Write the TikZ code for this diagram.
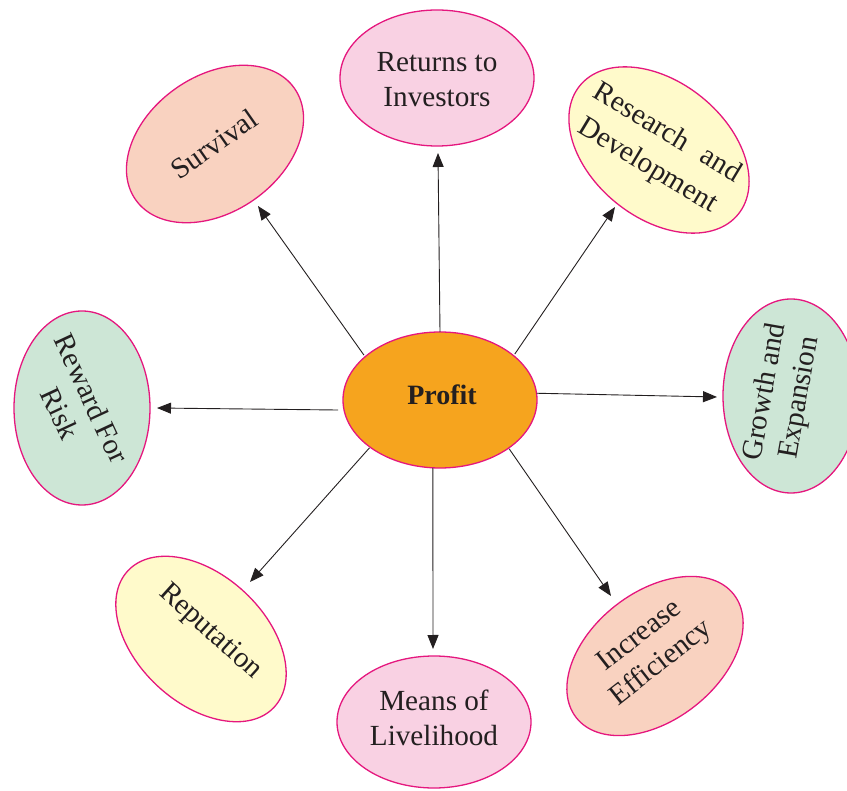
\documentclass[tikz,border=0pt]{standalone}
\usepackage{fontspec}
\setmainfont{Liberation Serif}
\usetikzlibrary{shapes.geometric,arrows.meta}
\definecolor{orng}{HTML}{F6A41E}
\definecolor{edge}{HTML}{E5177E}
\definecolor{pinkf}{HTML}{F9D1E3}
\definecolor{salmonf}{HTML}{F9D2C0}
\definecolor{yellowf}{HTML}{FFFACB}
\definecolor{mintf}{HTML}{CDE6D6}
\definecolor{ink}{HTML}{231F20}
\tikzset{
  bub/.style={ellipse, draw=edge, line width=1.3pt, inner sep=0pt, outer sep=0pt},
  lbl/.style={align=center, inner sep=0pt, text=ink, font=\fontsize{29.2}{35}\selectfont},
  arr/.style={-{Triangle[length=14pt,width=11pt]}, line width=0.9pt, draw=ink},
}
\begin{document}
\begin{tikzpicture}[x=1pt,y=-1pt]
\useasboundingbox (0,0) rectangle (847,791);
\clip (0,0) rectangle (847,791);
% central node
\node[bub, fill=orng, minimum width=194pt, minimum height=136pt] (profit) at (440,400) {};
\node[lbl, font=\fontsize{28}{34}\selectfont\bfseries] (profitT) at (442,395) {Profit};
% outer ellipses
\node[bub, fill=pinkf, minimum width=194pt, minimum height=136pt] (ret) at (437,78) {};
\node[lbl] (retT) at (437,80) {Returns to\\Investors};
\node[bub, fill=salmonf, minimum width=194pt, minimum height=136pt, rotate=35] (surv) at (215,144) {};
\node[lbl, rotate=35] (survT) at (214,144) {Survival};
\node[bub, fill=yellowf, minimum width=204pt, minimum height=136pt, rotate=-39] (rd) at (659,150) {};
\node[lbl, rotate=-31, font=\fontsize{29.2}{38}\selectfont] (rdT) at (657,150) {Research\hspace{0.6em}and\\Development};
\node[bub, fill=mintf, minimum width=136pt, minimum height=194pt] (rew) at (82,408) {};
\node[lbl, rotate=-65] (rewT) at (76,406) {Reward For\\Risk};
\node[bub, fill=mintf, minimum width=136pt, minimum height=194pt] (grow) at (791,396) {};
\node[lbl, rotate=80] (growT) at (783,395) {Growth and\\Expansion};
\node[bub, fill=yellowf, minimum width=200pt, minimum height=128pt, rotate=-43] (rep) at (201,639) {};
\node[lbl, rotate=-42] (repT) at (210,632) {Reputation};
\node[bub, fill=pinkf, minimum width=194pt, minimum height=132pt] (mean) at (434,722) {};
\node[lbl] (meanT) at (434,718) {Means of\\Livelihood};
\node[bub, fill=salmonf, minimum width=200pt, minimum height=128pt, rotate=38] (eff) at (655,656) {};
\node[lbl, rotate=38] (effT) at (651,650) {Increase\\Efficiency};
% arrow tips
\coordinate (retIn) at (438,153);
\coordinate (survIn) at (258,206);
\coordinate (rdIn) at (615,207);
\coordinate (rewIn) at (157,408);
\coordinate (growIn) at (717,397);
\coordinate (repIn) at (250,582);
\coordinate (meanIn) at (433,649);
\coordinate (effIn) at (611,596);
% connectors
\draw[arr] (profit.90) -- (retIn);
\draw[arr, shorten <=2pt] (profit.150) -- (survIn);
\draw[arr, shorten <=2pt] (profit.31) -- (rdIn);
\draw[arr, shorten <=6pt] (profit.186) -- (rewIn);
\draw[arr] (profit.4) -- (growIn);
\draw[arr, shorten <=1pt] (profit.214) -- (repIn);
\draw[arr] (profit.264) -- (meanIn);
\draw[arr, shorten <=1pt] (profit.325) -- (effIn);
\end{tikzpicture}
\end{document}
